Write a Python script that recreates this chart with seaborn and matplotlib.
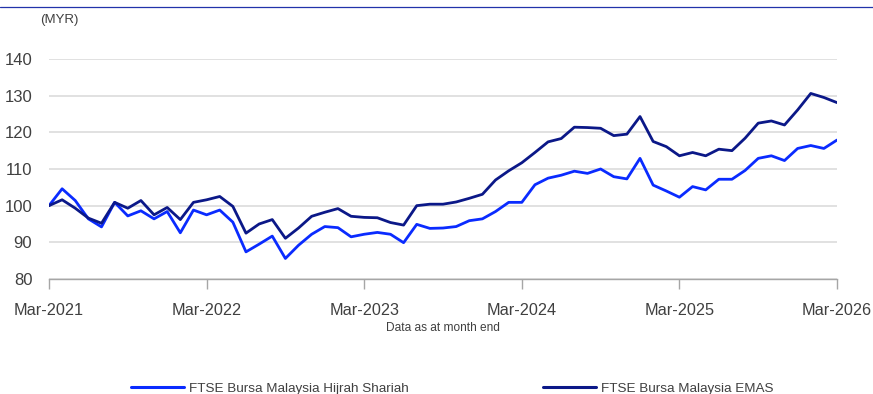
import numpy as np
import pandas as pd
import matplotlib
matplotlib.use("Agg")
import matplotlib.pyplot as plt
import seaborn as sns
from matplotlib.lines import Line2D

# Month-end index levels, Mar-2021 = 100
months = pd.date_range("2021-03-31", periods=61, freq="ME")

hijrah_shariah = [
    100.0, 104.6, 101.4, 96.4, 94.2, 100.9, 97.2, 98.6, 96.4, 98.4, 92.6, 98.8,
    97.5, 98.8, 95.5, 87.4, 89.5, 91.7, 85.6, 89.2, 92.2, 94.3, 94.0, 91.5,
    92.2, 92.7, 92.2, 89.9, 94.9, 93.8, 93.9, 94.3, 95.9, 96.4, 98.4, 100.9,
    100.9, 105.7, 107.5, 108.3, 109.4, 108.8, 110.0, 107.9, 107.3, 112.9, 105.6, 104.0,
    102.3, 105.2, 104.3, 107.2, 107.2, 109.6, 112.9, 113.6, 112.3, 115.6, 116.4, 115.6,
    117.9,
]

emas = [
    100.0, 101.6, 99.3, 96.6, 95.2, 100.9, 99.3, 101.4, 97.5, 99.5, 96.2, 100.9,
    101.6, 102.5, 99.8, 92.5, 95.0, 96.2, 91.1, 93.9, 97.1, 98.2, 99.2, 97.1,
    96.8, 96.7, 95.4, 94.7, 100.0, 100.4, 100.4, 101.0, 102.0, 103.1, 107.0, 109.5,
    111.7, 114.5, 117.4, 118.3, 121.4, 121.3, 121.1, 119.1, 119.5, 124.3, 117.5, 116.1,
    113.6, 114.5, 113.6, 115.4, 115.0, 118.4, 122.5, 123.1, 122.0, 126.1, 130.6, 129.5,
    128.1,
]

series_names = ["FTSE Bursa Malaysia Hijrah Shariah", "FTSE Bursa Malaysia EMAS"]
series_colors = ["#0A2BFF", "#0B1888"]

x_tick_labels = ["Mar-2021", "Mar-2022", "Mar-2023", "Mar-2024", "Mar-2025", "Mar-2026"]
y_ticks = [80, 90, 100, 110, 120, 130, 140]

df = pd.DataFrame({
    "month": np.concatenate([np.arange(len(months))] * 2),
    "value": hijrah_shariah + emas,
    "series": [series_names[0]] * len(months) + [series_names[1]] * len(months),
})

sns.set_theme(style="white")
plt.rcParams["font.family"] = ["Liberation Sans", "DejaVu Sans"]

fig = plt.figure(figsize=(8.73, 3.94), dpi=100)
ax = fig.add_axes([0.0561, 0.2919, 0.9027, 0.5584])

sns.lineplot(
    data=df, x="month", y="value", hue="series",
    palette=dict(zip(series_names, series_colors)),
    linewidth=2.0, ax=ax, legend=False,
)

ax.set_xlim(0, len(months) - 1)
ax.set_ylim(80, 140)
ax.set_yticks(y_ticks)
ax.set_yticklabels([str(v) for v in y_ticks])
tick_pos = [i for i, m in enumerate(months) if m.month == 3]
ax.set_xticks(tick_pos)
ax.set_xticklabels(x_tick_labels)
ax.set_xlabel("")
ax.set_ylabel("")

ax.grid(axis="y", color="#d9d9d9", linewidth=1.1)
ax.grid(axis="x", visible=False)
ax.set_axisbelow(True)
for side in ["top", "right", "left"]:
    ax.spines[side].set_visible(False)
ax.spines["bottom"].set_color("#a6a6a6")
ax.spines["bottom"].set_linewidth(1.0)

ax.tick_params(axis="y", length=0, pad=12, labelsize=12, labelcolor="#404040")
ax.tick_params(axis="x", length=7, width=1.0, color="#a6a6a6", direction="out",
               bottom=True, pad=10, labelsize=11.7, labelcolor="#404040")

# Unit label and note
fig.text(40 / 873, 1 - 20 / 394, "(MYR)", fontsize=9.5, color="#404040",
         ha="left", va="center")
fig.text(443 / 873, 1 - 328 / 394, "Data as at month end", fontsize=8.6,
         color="#404040", ha="center", va="center")

# Rule across the top
fig.add_artist(Line2D([0, 1], [1 - 7 / 394, 1 - 7 / 394], color="#2233aa",
                      linewidth=0.9, transform=fig.transFigure))

handles = [Line2D([], [], color=c, linewidth=2.2) for c in series_colors]
fig.legend(handles, series_names, loc="center", bbox_to_anchor=(0.518, 0.014),
           ncol=2, frameon=False, fontsize=9.7, handlelength=3.9,
           handletextpad=0.37, columnspacing=10.0, labelcolor="#404040")

fig.savefig("out.png", dpi=100)
